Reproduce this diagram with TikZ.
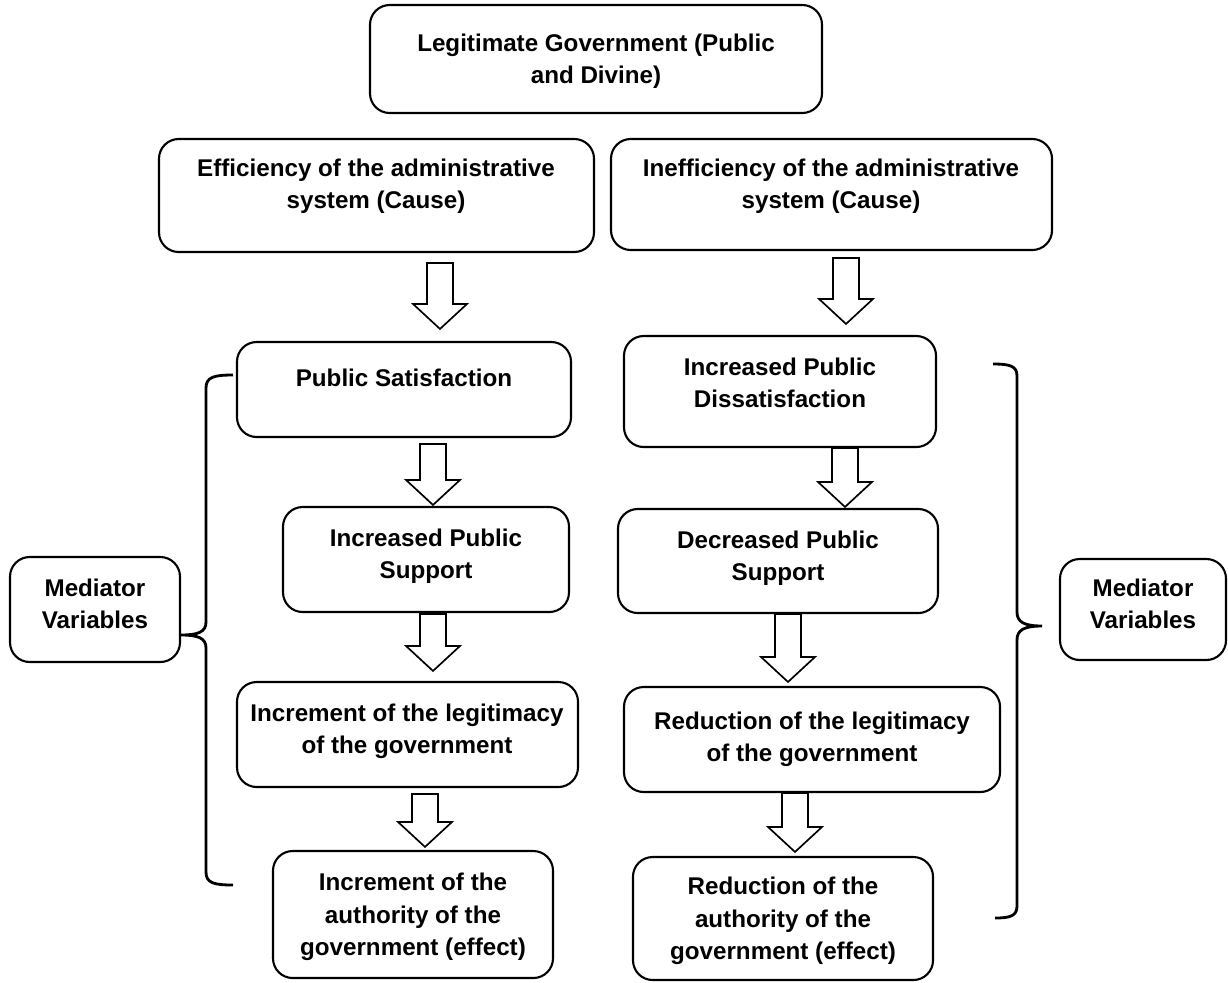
\documentclass[tikz,border=0pt]{standalone}
\usepackage{fontspec}
\setmainfont{Liberation Sans}
\usetikzlibrary{calc,fit}

% hollow down arrow: x, from node, to node, top gap, tip gap
\newcommand{\blockdown}[5]{%
\draw[blockarrow] ($(#1,0 |- #2.south)+(-13,#4)$) -- ++(26,0)
  -- ($(#1,0 |- #3.north)+(13,-#5-25)$) -- ++(14,0)
  -- ($(#1,0 |- #3.north)+(0,-#5)$)
  -- ($(#1,0 |- #3.north)+(-27,-#5-25)$) -- ++(14,0) -- cycle;}

\begin{document}
\begin{tikzpicture}[x=0.025cm,y=-0.025cm,
  box/.style={draw,line width=1.5pt,rounded corners=14pt,inner sep=0pt},
  txt/.style={align=center,inner sep=0pt,font=\fontsize{17.2}{23}\selectfont\bfseries},
  blockarrow/.style={draw,fill=white,line width=1.2pt,line join=miter},
  brace/.style={line width=2pt}]
\useasboundingbox (0,0) rectangle (1228,982);

\node[box,fit={(370,5) (822,113)}] (gov) {};
\node[txt] (gov-t) at (596,61) {Legitimate Government (Public\\and Divine)};

\node[box,fit={(159,139) (594,252)}] (eff) {};
\node[txt] (eff-t) at (376,186) {Efficiency of the administrative\\system (Cause)};
\node[box,fit={(611,139) (1052,250)}] (ineff) {};
\node[txt] (ineff-t) at (831,186) {Inefficiency of the administrative\\system (Cause)};

\node[box,fit={(237,342) (571,437)}] (sat) {};
\node[txt] (sat-t) at (404,378) {Public Satisfaction};
\node[box,fit={(624,336) (936,447)}] (dis) {};
\node[txt] (dis-t) at (780,383) {Increased Public\\Dissatisfaction};

\node[box,fit={(283,507) (569,612)}] (incsup) {};
\node[txt] (incsup-t) at (426,556) {Increased Public\\Support};
\node[box,fit={(618,509) (938,613)}] (decsup) {};
\node[txt] (decsup-t) at (778,558) {Decreased Public\\Support};

\node[box,fit={(237,682) (578,787)}] (incleg) {};
\node[txt] (incleg-t) at (407,731) {Increment of the legitimacy\\of the government};
\node[box,fit={(624,687) (1000,792)}] (redleg) {};
\node[txt] (redleg-t) at (812,739) {Reduction of the legitimacy\\of the government};

\node[box,fit={(273,851) (553,978)}] (incauth) {};
\node[txt] (incauth-t) at (413,917) {Increment of the\\authority of the\\government (effect)};
\node[box,fit={(633,857) (933,980)}] (redauth) {};
\node[txt] (redauth-t) at (783,921) {Reduction of the\\authority of the\\government (effect)};

\node[box,fit={(10,557) (180,662)}] (medl) {};
\node[txt] (medl-t) at (95,604) {Mediator\\Variables};
\node[box,fit={(1060,559) (1226,660)}] (medr) {};
\node[txt] (medr-t) at (1143,604) {Mediator\\Variables};

\blockdown{440}{eff}{sat}{10}{12}
\blockdown{846}{ineff}{dis}{7}{11}
\blockdown{433}{sat}{incsup}{6}{1}
\blockdown{845}{dis}{decsup}{0}{1}
\blockdown{433}{incsup}{incleg}{1}{10}
\blockdown{788}{decsup}{redleg}{0}{4}
\blockdown{425}{incleg}{incauth}{6}{3}
\blockdown{795}{redleg}{redauth}{0}{4}

\draw[brace] (233,375) .. controls (214,375) and (206,377) .. (206,388) -- (206,622)
  .. controls (206,632) and (198,635) .. (181,635)
  .. controls (198,635) and (206,638) .. (206,648) -- (206,872)
  .. controls (206,883) and (214,885) .. (233,885);
\draw[brace] (993,364) .. controls (1010,364) and (1017,366) .. (1017,376) -- (1017,612)
  .. controls (1017,622) and (1024,626) .. (1042,626)
  .. controls (1024,626) and (1017,630) .. (1017,640) -- (1017,906)
  .. controls (1017,916) and (1010,918) .. (995,918);
\end{tikzpicture}
\end{document}
